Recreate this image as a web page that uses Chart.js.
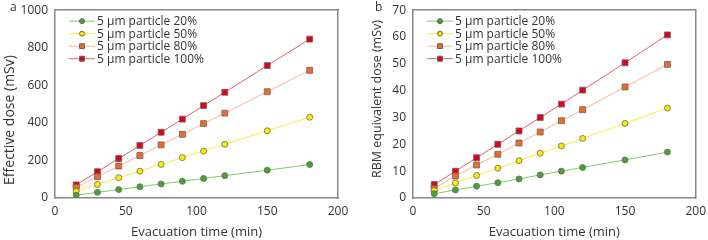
<!DOCTYPE html>
<html>
<head>
<meta charset="utf-8">
<script src="https://cdn.jsdelivr.net/npm/chart.js@4"></script>
<style>
  html, body { margin: 0; padding: 0; background: #fff; }
  #wrap { position: relative; width: 708px; height: 240px; }
  .box { position: absolute; top: 0; width: 354px; height: 240px; }
</style>
</head>
<body>
<div id="wrap">
  <div class="box" style="left:0"><canvas id="chartA"></canvas></div>
  <div class="box" style="left:354px"><canvas id="chartB"></canvas></div>
</div>
<script>
// ---- Data ----
const times = [15, 30, 45, 60, 75, 90, 105, 120, 150, 180];
const seriesNames = ['5 µm particle 20%', '5 µm particle 50%', '5 µm particle 80%', '5 µm particle 100%'];

// panel a: effective dose (mSv)
const effective20  = [15, 30, 45, 60, 75, 89, 104, 119, 148, 178];
const effective50  = [36, 72, 108, 143, 179, 215, 250, 286, 358, 430];
const effective80  = [56, 113, 170, 226, 283, 339, 396, 452, 566, 680];
const effective100 = [70, 140, 210, 280, 350, 420, 492, 563, 705, 846];

// panel b: RBM equivalent dose (mSv)
const rbm20  = [1.6, 3.0, 4.4, 5.7, 7.1, 8.6, 10.0, 11.4, 14.2, 17.1];
const rbm50  = [2.8, 5.6, 8.4, 11.1, 13.9, 16.7, 19.4, 22.2, 27.8, 33.5];
const rbm80  = [3.5, 8.2, 12.3, 16.3, 20.5, 24.6, 28.8, 32.9, 41.4, 49.8];
const rbm100 = [5.0, 10.0, 15.0, 20.0, 25.0, 30.0, 35.0, 40.2, 50.4, 60.8];

// ---- Styles ----
const fontFam = '"Open Sans", "Noto Sans", sans-serif';
const txt = '#333';
const axisGrey = '#888';
const styles = [
  { line: '#7ccc6a', fill: '#46a62a', shape: 'circle', r: 3 },
  { line: '#f2ee44', fill: '#ffeb00', shape: 'circle', r: 3 },
  { line: '#f6b497', fill: '#f06a2a', shape: 'rect', r: 4.2 },
  { line: '#d8646a', fill: '#e2001a', shape: 'rect', r: 4.2 }
];

const makeSets = (arrs) => arrs.map((vals, i) => ({
  label: seriesNames[i],
  data: times.map((t, k) => ({ x: t, y: vals[k] })),
  borderColor: styles[i].line,
  borderWidth: 1,
  pointStyle: styles[i].shape,
  pointRadius: styles[i].r,
  pointBackgroundColor: styles[i].fill,
  pointBorderColor: '#666',
  pointBorderWidth: 0.8,
  tension: 0
}));

// legend inside the plot area, panel letter and y title
const extras = {
  id: 'extras',
  afterDraw(chart, args, opts) {
    const c = chart.ctx, area = chart.chartArea;
    c.save();
    c.font = '12px ' + fontFam;
    c.textBaseline = 'middle';
    chart.data.datasets.forEach((ds, i) => {
      const y = area.top + opts.top + i * 12.5;
      const x0 = area.left + opts.left;
      c.strokeStyle = ds.borderColor; c.lineWidth = 1;
      c.beginPath(); c.moveTo(x0, y); c.lineTo(x0 + 26, y); c.stroke();
      Chart.helpers.drawPoint(c, {
        pointStyle: ds.pointStyle, radius: ds.pointRadius * 0.8, borderWidth: 0.8
      }, x0 + 13, y);
      c.fillStyle = ds.pointBackgroundColor; c.strokeStyle = '#666';
      c.fill(); c.stroke();
      c.fillStyle = txt;
      c.fillText(ds.label, x0 + 28, y + 0.5);
    });
    // panel letter
    c.textBaseline = 'top';
    c.fillText(opts.letter, opts.letterX, 2);
    // y axis title
    c.font = opts.titleSize + 'px ' + fontFam;
    c.textAlign = 'center';
    c.textBaseline = 'middle';
    c.translate(opts.titleX, opts.titleY);
    c.rotate(-Math.PI / 2);
    c.fillText(opts.title, 0, 0);
    c.restore();
  }
};

function makeChart(id, sets, yMax, yStep, opts, pad, yWidth) {
  return new Chart(document.getElementById(id), {
    type: 'line',
    data: { datasets: makeSets(sets) },
    plugins: [extras],
    options: {
      responsive: true, maintainAspectRatio: false, animation: false,
      layout: { padding: pad },
      plugins: {
        legend: { display: false }, tooltip: { enabled: false },
        extras: Object.assign({ left: 14, top: 11 }, opts)
      },
      scales: {
        x: {
          type: 'linear', min: 0, max: 200,
          ticks: { stepSize: 50, color: txt, font: { family: fontFam, size: 12 }, padding: 2 },
          grid: { display: false, drawOnChartArea: false, tickLength: 4, color: axisGrey },
          border: { color: axisGrey, width: 1.5 },
          title: { display: true, text: 'Evacuation time (min)', color: txt, font: { family: fontFam, size: 13 }, padding: { top: 2, bottom: 0 } },
          afterFit: s => { s.height = 42; }
        },
        y: {
          min: 0, max: yMax,
          ticks: { stepSize: yStep, color: txt, font: { family: fontFam, size: 12 }, padding: 3, callback: v => String(v) },
          grid: { display: false, drawOnChartArea: false, tickLength: 4, color: axisGrey },
          border: { color: axisGrey, width: 1.5 },
          afterFit: s => { s.width = yWidth; }
        },
        x2: {
          type: 'linear', position: 'top', min: 0, max: 200,
          ticks: { display: false }, grid: { display: false },
          border: { color: axisGrey, width: 1.5 },
          afterFit: s => { s.height = 0; }
        },
        y2: {
          position: 'right', min: 0, max: yMax,
          ticks: { display: false }, grid: { display: false },
          border: { color: axisGrey, width: 1.5 },
          afterFit: s => { s.width = 0; }
        }
      }
    }
  });
}

makeChart('chartA', [effective20, effective50, effective80, effective100], 1000, 200,
  { letter: 'a', letterX: 10, title: 'Effective dose (mSv)', titleSize: 14, titleX: 10, titleY: 120 },
  { top: 5, right: 16, left: 0, bottom: 0 }, 55);
makeChart('chartB', [rbm20, rbm50, rbm80, rbm100], 70, 10,
  { letter: 'b', letterX: 21, title: 'RBM equivalent dose (mSv)', titleSize: 12.5, titleX: 23, titleY: 99 },
  { top: 7, right: 11, left: 0, bottom: 0 }, 59);
</script>
</body>
</html>
